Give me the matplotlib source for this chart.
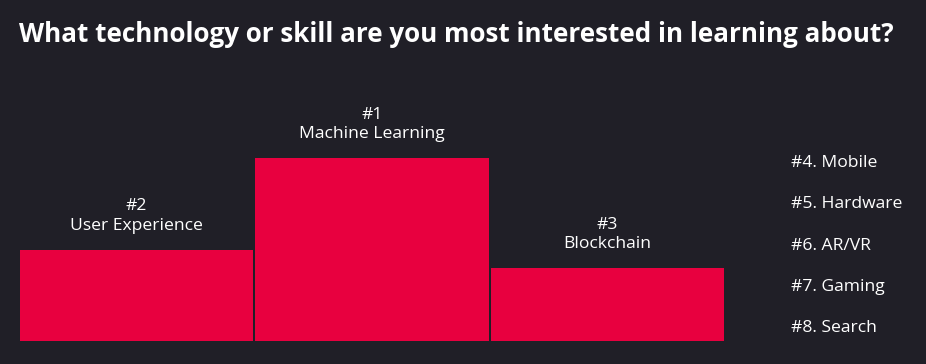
import matplotlib
matplotlib.use("Agg")
import matplotlib.pyplot as plt

categories = ["User Experience", "Machine Learning", "Blockchain"]
ranks = ["#2", "#1", "#3"]
values = [50, 100, 40]
others = ["#4. Mobile", "#5. Hardware", "#6. AR/VR", "#7. Gaming", "#8. Search"]

BG = "#201f27"
RED = "#e8003f"
W, H = 926, 364
FS = 12.6

fig = plt.figure(figsize=(W / 100, H / 100), dpi=100, facecolor=BG)
ax = fig.add_axes([19 / W, 23 / H, 706 / W, 183 / H])
ax.set_facecolor(BG)
xs = list(range(len(categories)))
ax.bar(xs, values, width=0.992, color=RED, align="center")
ax.set_xlim(-0.5, len(categories) - 0.5)
ax.set_ylim(0, max(values))
ax.axis("off")

for x, v, r, c in zip(xs, values, ranks, categories):
    ax.annotate(c, (x, v), xytext=(0, 17), textcoords="offset points",
                ha="center", va="center", color="white", fontsize=FS,
                family="Open Sans", annotation_clip=False)
    ax.annotate(r, (x, v), xytext=(0, 31), textcoords="offset points",
                ha="center", va="center", color="white", fontsize=FS,
                family="Open Sans", annotation_clip=False)

ys = [163, 204, 246, 287, 328]
for t, y in zip(others, ys):
    fig.text(791 / W, 1 - y / H, t, ha="left", va="center", color="white",
             fontsize=FS, family="Open Sans")

fig.text(19 / W, 1 - 34 / H, "What technology or skill are you most interested in learning about?",
         ha="left", va="center", color="white", fontsize=18.7, fontweight="bold",
         family="Open Sans")

fig.savefig("out.png", dpi=100, facecolor=BG)
